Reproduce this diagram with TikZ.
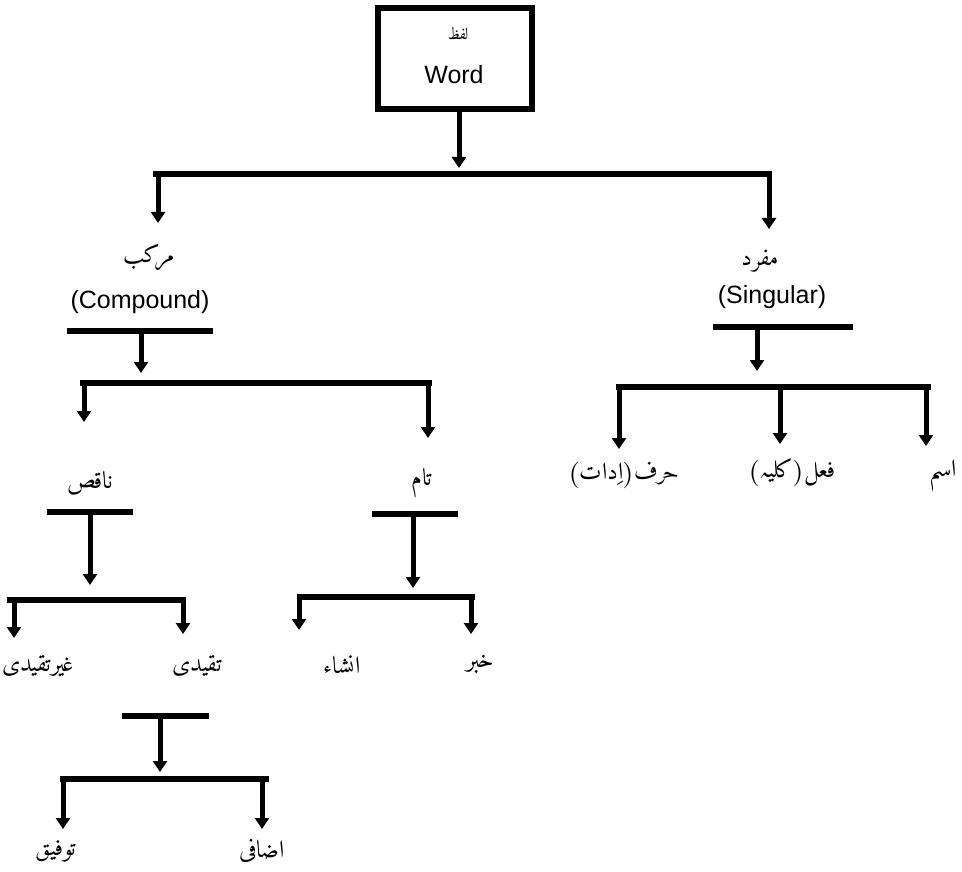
\documentclass[tikz,border=0pt]{standalone}
\usepackage{fontspec}
\setmainfont{Liberation Sans}
\newfontfamily\ur{Amiri-Regular}[Extension=.ttf, Script=Arabic]
\TeXXeTstate=1
\usetikzlibrary{arrows.meta}
\newcommand{\uw}[1]{\hbox{\ur\beginR #1\endR}}
\begin{document}
\begin{tikzpicture}[x=1pt,y=-1pt,
  bar/.style={line width=6pt},
  arr/.style={line width=5pt,-{Triangle[length=11pt,width=14pt]}},
  ulab/.style={font=\ur\fontsize{24}{28}\selectfont, inner sep=0pt},
  elab/.style={font=\fontsize{25}{30}\selectfont, inner sep=0pt}]
\useasboundingbox (0,0) rectangle (962,872);
\fill[white] (0,0) rectangle (962,872);

% root box
\node[draw, line width=6pt, minimum width=154pt, minimum height=101pt, inner sep=0pt] (box) at (455,58.5) {};
\node[ulab, font=\ur\fontsize{16}{18}\selectfont] (lafz) at (458,33) {\uw{لفظ}};
\node[elab] (word) at (454,75) {Word};
\coordinate (a0s) at (459,109);
\coordinate (a0e) at (459,168);
\draw[arr] (a0s) -- (a0e);

% top bar
\coordinate (b1l) at (153,174);
\coordinate (b1r) at (772,174);
\draw[bar] (b1l) -- (b1r);
\coordinate (b1a) at (158,174);
\coordinate (b1ae) at (158,223);
\coordinate (b1b) at (769,174);
\coordinate (b1be) at (769,229);
\draw[arr] (b1a) -- (b1ae);
\draw[arr] (b1b) -- (b1be);

% compound
\node[ulab] (murakkab) at (149,258) {\uw{مرکب}};
\node[elab] (comp) at (140,302) {(Compound)};
\coordinate (u1l) at (67,331);
\coordinate (u1r) at (213,331);
\draw[bar] (u1l) -- (u1r);
\coordinate (u1a) at (141,331);
\coordinate (u1ae) at (141,373);
\draw[arr] (u1a) -- (u1ae);
\coordinate (b2l) at (80,383);
\coordinate (b2r) at (432,383);
\draw[bar] (b2l) -- (b2r);
\coordinate (b2a) at (84,383);
\coordinate (b2ae) at (84,422);
\coordinate (b2b) at (428,383);
\coordinate (b2be) at (428,438);
\draw[arr] (b2a) -- (b2ae);
\draw[arr] (b2b) -- (b2be);

% naqis
\node[ulab] (naqis) at (90,483) {\uw{ناقص}};
\coordinate (u2l) at (47,512);
\coordinate (u2r) at (133,512);
\draw[bar] (u2l) -- (u2r);
\coordinate (u2a) at (90,512);
\coordinate (u2ae) at (90,585);
\draw[arr] (u2a) -- (u2ae);
\coordinate (b3l) at (7,600);
\coordinate (b3r) at (186,600);
\draw[bar] (b3l) -- (b3r);
\coordinate (b3a) at (14,600);
\coordinate (b3ae) at (14,638);
\coordinate (b3b) at (183,600);
\coordinate (b3be) at (183,634);
\draw[arr] (b3a) -- (b3ae);
\draw[arr] (b3b) -- (b3be);
\node[ulab] (ghair) at (38,666) {\uw{غیرتقیدی}};
\node[ulab] (taqyidi) at (197,666) {\uw{تقیدی}};

% tam
\node[ulab] (tam) at (422,483) {\uw{تام}};
\coordinate (u3l) at (372,514);
\coordinate (u3r) at (458,514);
\draw[bar] (u3l) -- (u3r);
\coordinate (u3a) at (413,514);
\coordinate (u3ae) at (413,588);
\draw[arr] (u3a) -- (u3ae);
\coordinate (b4l) at (297,597);
\coordinate (b4r) at (475,597);
\draw[bar] (b4l) -- (b4r);
\coordinate (b4a) at (299,597);
\coordinate (b4ae) at (299,630);
\coordinate (b4b) at (471,597);
\coordinate (b4be) at (471,634);
\draw[arr] (b4a) -- (b4ae);
\draw[arr] (b4b) -- (b4be);
\node[ulab] (insha) at (342,665) {\uw{انشاء}};
\node[ulab] (khabar) at (480,664) {\uw{خبر}};

% taqyidi subtree
\coordinate (u4l) at (122,716);
\coordinate (u4r) at (209,716);
\draw[bar] (u4l) -- (u4r);
\coordinate (u4a) at (160,716);
\coordinate (u4ae) at (160,772);
\draw[arr] (u4a) -- (u4ae);
\coordinate (b5l) at (60,779);
\coordinate (b5r) at (269,779);
\draw[bar] (b5l) -- (b5r);
\coordinate (b5a) at (63,779);
\coordinate (b5ae) at (63,829);
\coordinate (b5b) at (262,779);
\coordinate (b5be) at (262,829);
\draw[arr] (b5a) -- (b5ae);
\draw[arr] (b5b) -- (b5be);
\node[ulab] (tawfiq) at (56,851) {\uw{توفیق}};
\node[ulab] (izafi) at (262,851) {\uw{اضافی}};

% singular
\node[ulab] (mufrad) at (760,261) {\uw{مفرد}};
\node[elab] (sing) at (772,297) {(Singular)};
\coordinate (u5l) at (713,327);
\coordinate (u5r) at (853,327);
\draw[bar] (u5l) -- (u5r);
\coordinate (u5a) at (757,327);
\coordinate (u5ae) at (757,371);
\draw[arr] (u5a) -- (u5ae);
\coordinate (b6l) at (616,387);
\coordinate (b6r) at (931,387);
\draw[bar] (b6l) -- (b6r);
\coordinate (b6a) at (619,387);
\coordinate (b6ae) at (619,449);
\coordinate (b6b) at (780,387);
\coordinate (b6be) at (780,444);
\coordinate (b6c) at (926,387);
\coordinate (b6ce) at (926,446);
\draw[arr] (b6a) -- (b6ae);
\draw[arr] (b6b) -- (b6be);
\draw[arr] (b6c) -- (b6ce);
\node[ulab] (harf) at (624,475) {\hbox{\ur)}\uw{اِدات}\hbox{\ur(}\uw{حرف}};
\node[ulab] (fel) at (792,473) {\hbox{\ur)}\uw{کلیہ}\hbox{\ur(}\uw{فعل}};
\node[ulab] (ism) at (943,475) {\uw{اسم}};
\end{tikzpicture}
\end{document}
